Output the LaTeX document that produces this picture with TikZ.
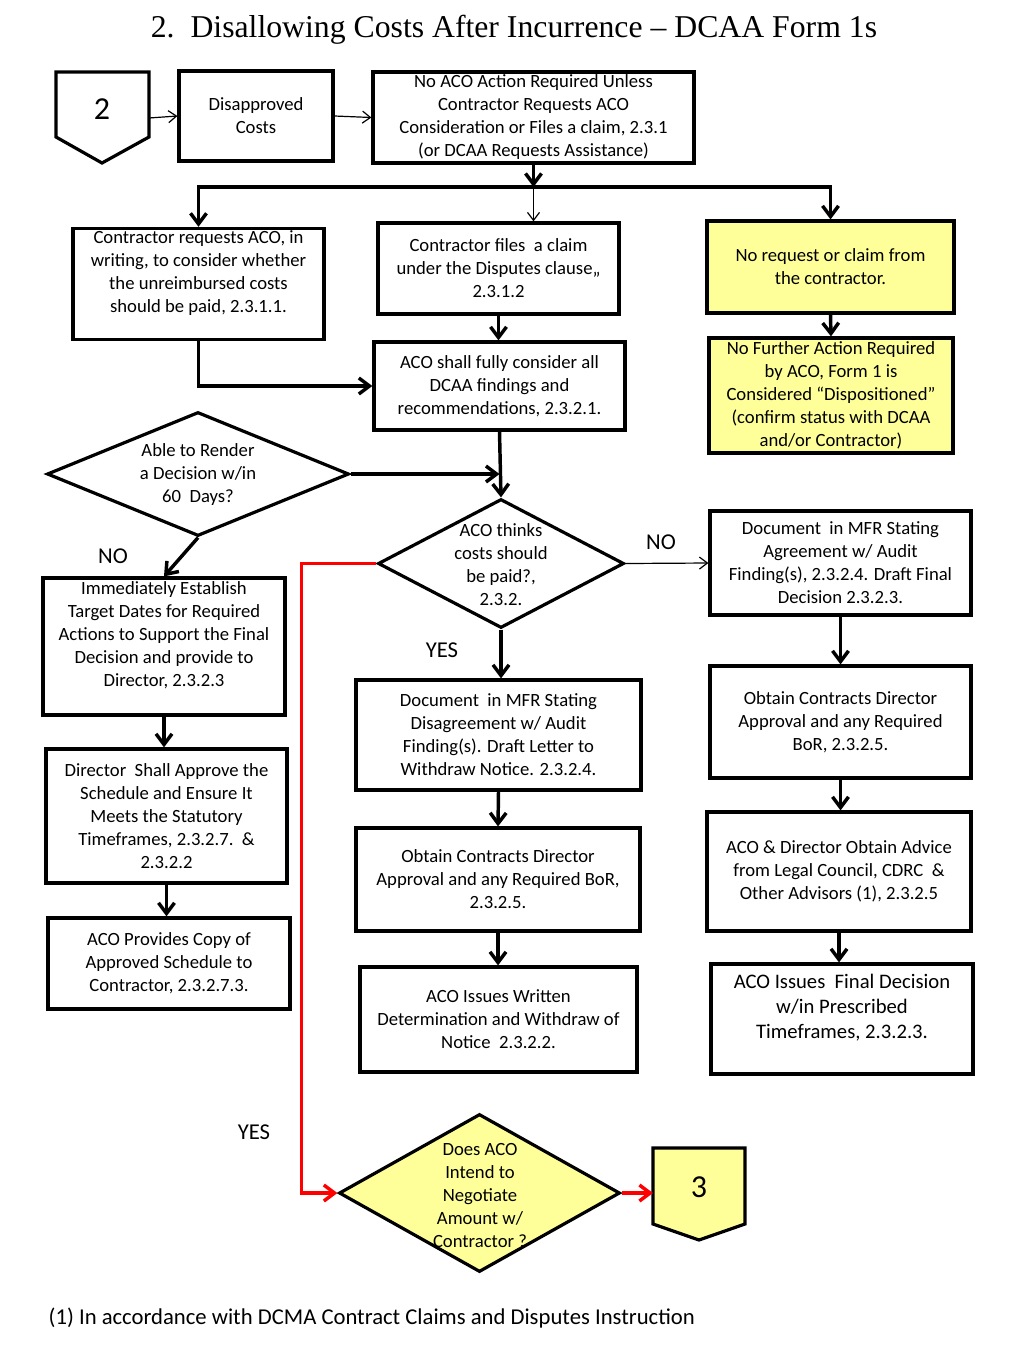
\documentclass[tikz,border=0pt]{standalone}
\usepackage{fontspec}
\setmainfont{Carlito}
\newfontfamily\titlefont{Liberation Serif}
\usetikzlibrary{arrows.meta,shapes.geometric}
\def\px{0.75pt}
\definecolor{note}{RGB}{255,255,153}
\tikzset{
  box/.style={draw, line width=2.4pt, align=center, inner sep=2pt, font=\fontsize{14}{17.25}\selectfont},
  decision/.style={draw, line width=2.4pt, shape=diamond, inner sep=0pt},
  dtext/.style={align=center, inner sep=0pt, font=\fontsize{14}{17.25}\selectfont},
  tag/.style={font=\fontsize{17}{20}\selectfont},
  flow/.style={line width=2.6pt, -{Straight Barb[length=8pt,width=12pt]}},
  thin/.style={line width=0.9pt, -{Straight Barb[length=6pt,width=9pt]}},
  redflow/.style={flow, red},
}
\begin{document}
\begin{tikzpicture}[x=0.75pt, y=-0.75pt]
\useasboundingbox (0,0) rectangle (1024,1365);

% title
\node[font=\titlefont\fontsize{23.8}{28}\selectfont] (title) at (514,30) {2.\ \ Disallowing Costs After Incurrence \textendash\ DCAA Form 1s};

% off-page connector 2
\draw[line width=2.4pt] (56,72) -- (149,72) -- (149,137) -- (102,163) -- (56,137) -- cycle;
\node[font=\fontsize{24}{28}\selectfont] (two) at (102,109) {2};
\coordinate (twoE) at (149,118);

% top row
\node[box, minimum width=154*\px, minimum height=90*\px] (disapp) at (256,116) {Disapproved\\Costs};
\node[box, minimum width=321*\px, minimum height=91*\px] (noaco) at (533.5,117.5)
  {No ACO Action Required Unless\\Contractor Requests ACO\\Consideration or Files a claim, 2.3.1\\(or DCAA Requests Assistance)};
\coordinate (split) at (533.5,187);

% second row
\node[box, minimum width=251*\px, minimum height=110*\px, text depth=24*\px] (req) at (198.5,284)
  {Contractor requests ACO, in\\writing, to consider whether\\the unreimbursed costs\\should be paid, 2.3.1.1.};
\node[box, minimum width=241*\px, minimum height=91*\px] (files) at (498.5,268.5)
  {Contractor files\ \ a claim\\under the Disputes clause,,\\2.3.1.2};
\node[box, fill=note, minimum width=247*\px, minimum height=92*\px] (noreq) at (830.5,267)
  {No request or claim from\\the contractor.};

\node[box, minimum width=251*\px, minimum height=88*\px] (shall) at (499.5,386)
  {ACO shall fully consider all\\DCAA findings and\\recommendations, 2.3.2.1.};
\node[box, fill=note, minimum width=244*\px, minimum height=115*\px] (nofurther) at (831,395.5)
  {No Further Action Required\\by ACO, Form 1 is\\Considered ``Dispositioned''\\(confirm status with DCAA\\and/or Contractor)};

% decisions
\node[decision, minimum width=302*\px, minimum height=124*\px] (able) at (198,474) {};
\node[dtext] (ableT) at (198,475) {Able to Render\\a Decision w/in\\60\ \ Days?};
\node[decision, minimum width=246*\px, minimum height=129*\px] (thinks) at (501,563.5) {};
\node[dtext] (thinksT) at (501,565) {ACO thinks\\costs should\\be paid?,\\2.3.2.};

\node[tag] (no1) at (113,556) {NO};
\node[tag] (no2) at (661,542) {NO};
\node[tag] (yes1) at (442,650) {YES};
\node[tag] (yes2) at (254,1132) {YES};

% left column
\node[box, minimum width=242*\px, minimum height=137*\px, text depth=24*\px] (immed) at (164,646.5)
  {Immediately Establish\\Target Dates for Required\\Actions to Support the Final\\Decision and provide to\\Director, 2.3.2.3};
\node[box, minimum width=241*\px, minimum height=134*\px] (director) at (166.5,816)
  {Director\ \ Shall Approve the\\Schedule and Ensure It\\Meets the Statutory\\Timeframes, 2.3.2.7.\ \ \&\\2.3.2.2};
\node[box, minimum width=242*\px, minimum height=91*\px] (provides) at (169,963.5)
  {ACO Provides Copy of\\Approved Schedule to\\Contractor, 2.3.2.7.3.};

% middle column
\node[box, minimum width=285*\px, minimum height=110*\px] (disagree) at (498.5,735)
  {Document\ \ in MFR Stating\\Disagreement w/ Audit\\Finding(s). Draft Letter to\\Withdraw Notice. 2.3.2.4.};
\node[box, minimum width=284*\px, minimum height=103*\px] (obtainM) at (498,879.5)
  {Obtain Contracts Director\\Approval and any Required BoR,\\2.3.2.5.};
\node[box, minimum width=277*\px, minimum height=105*\px] (written) at (498.5,1019.5)
  {ACO Issues Written\\Determination and Withdraw of\\Notice\ \ 2.3.2.2.};

% right column
\node[box, minimum width=261*\px, minimum height=104*\px] (agree) at (840.5,563)
  {Document\ \ in MFR Stating\\Agreement w/ Audit\\Finding(s), 2.3.2.4. Draft Final\\Decision 2.3.2.3.};
\node[box, minimum width=261*\px, minimum height=112*\px] (obtainR) at (840.5,722)
  {Obtain Contracts Director\\Approval and any Required\\BoR, 2.3.2.5.};
\node[box, minimum width=264*\px, minimum height=119*\px] (advice) at (839,871.5)
  {ACO \& Director Obtain Advice\\from Legal Council, CDRC\ \ \&\\Other Advisors (1), 2.3.2.5};
\node[box, minimum width=262*\px, minimum height=110*\px, text depth=26*\px, font=\fontsize{15.5}{18.75}\selectfont] (final) at (842,1019)
  {ACO Issues\ \ Final Decision\\w/in Prescribed\\Timeframes, 2.3.2.3.};

% negotiate + connector 3
\node[decision, fill=note, minimum width=281*\px, minimum height=158*\px] (neg) at (479.5,1193) {};
\node[dtext] (negT) at (480,1195) {Does ACO\\Intend to\\Negotiate\\Amount w/\\Contractor ?};
\draw[line width=2.4pt, fill=note] (653,1148) -- (745,1148) -- (745,1224) -- (699,1240) -- (653,1224) -- cycle;
\node[font=\fontsize{24}{28}\selectfont] (three) at (699,1187) {3};
\coordinate (threeW) at (653,1193);

% footnote
\node[anchor=west, font=\fontsize{17}{20}\selectfont] (note1) at (44,1318) {(1) In accordance with DCMA Contract Claims and Disputes Instruction};

% connectors
\draw[thin] (twoE) -- (disapp.west);
\draw[thin] (disapp.east) -- (noaco.west);
\draw[flow] (noaco.south) -- (split);
\draw[flow] (split) -| (req.north);
\draw[flow] (split) -| (noreq.north);
\draw[thin] (split) -- (split |- files.north);
\draw[flow] (files.south) -- (files.south |- shall.north);
\draw[flow] (noreq.south) -- (nofurther.north);
\draw[flow] (req.south) |- (shall.west);
\draw[flow] (shall.south) -- (thinks.north);
\draw[flow] (able.east) -- (able.east -| shall.south);
\draw[flow] (able.south) -- (immed.north);
\draw[thin] (thinks.east) -- (agree.west);
\draw[flow] (thinks.south) -- (thinks.south |- disagree.north);
\draw[flow] (immed.south) -- (immed.south |- director.north);
\draw[flow] (director.south) -- (director.south |- provides.north);
\draw[flow] (disagree.south) -- (obtainM.north);
\draw[flow] (obtainM.south) -- (obtainM.south |- written.north);
\draw[flow] (agree.south) -- (agree.south |- obtainR.north);
\draw[flow] (obtainR.south) -- (obtainR.south |- advice.north);
\draw[flow] (advice.south) -- (advice.south |- final.north);
\draw[redflow] (thinks.west) -- ++(-75,0) |- (neg.west);
\draw[redflow] (neg.east) -- (threeW);
\end{tikzpicture}
\end{document}
